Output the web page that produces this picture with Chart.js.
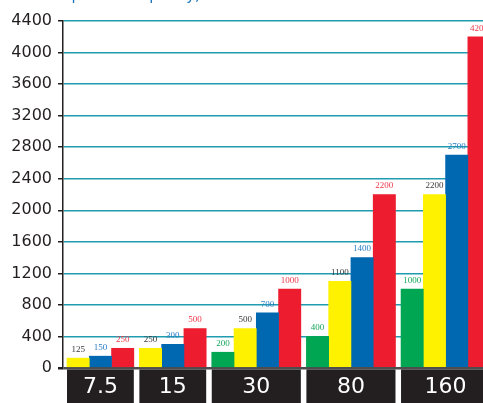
<!DOCTYPE html>
<html>
<head>
<meta charset="utf-8">
<script src="https://cdn.jsdelivr.net/npm/chart.js@4.4.1/dist/chart.umd.min.js"></script>
<style>
  html, body { margin: 0; padding: 0; background: #ffffff; }
</style>
</head>
<body>
<canvas id="chart" width="483" height="403"></canvas>
<script>
// chart values
const categories = ["7.5", "15", "30", "80", "160"];
const greenValues = [null, null, 200, 400, 1000];
const yellowValues = [125, 250, 500, 1100, 2200];
const blueValues = [150, 300, 700, 1400, 2700];
const redValues = [250, 500, 1000, 2200, 4200];
const yTickValues = [0, 400, 800, 1200, 1600, 2000, 2400, 2800, 3200, 3600, 4000, 4400];
const titleText = "Air compressor capacity,";

const series = [
  { values: greenValues, color: "#00a651", labelColor: "#16a85a" },
  { values: yellowValues, color: "#fff200", labelColor: "#3a3a3a" },
  { values: blueValues, color: "#0067b1", labelColor: "#2a7fc4" },
  { values: redValues, color: "#ed1c2e", labelColor: "#ee3a4a" },
];

// each bar gets one slot on a linear x scale; groups only hold the bars they have
const groupGap = 0.25;
const seriesPoints = series.map(() => []);
let slot = 0;
categories.forEach((cat, g) => {
  series.forEach((s, si) => {
    if (s.values[g] === null) return;
    seriesPoints[si].push({ x: slot, y: s.values[g], g: g });
    slot += 1;
  });
  slot += groupGap;
});

const categoryBoxes = {
  id: "categoryBoxes",
  afterDatasetsDraw(chart) {
    const ctx = chart.ctx;
    const area = chart.chartArea;
    const spans = categories.map(() => ({ left: Infinity, right: -Infinity }));
    chart.data.datasets.forEach((ds, di) => {
      chart.getDatasetMeta(di).data.forEach((bar, i) => {
        const g = ds.data[i].g;
        spans[g].left = Math.min(spans[g].left, bar.x - bar.width / 2);
        spans[g].right = Math.max(spans[g].right, bar.x + bar.width / 2);
      });
    });
    ctx.save();
    const top = area.bottom + 1.5;
    spans.forEach((sp, g) => {
      ctx.fillStyle = "#231f20";
      ctx.fillRect(sp.left, top, sp.right - sp.left, chart.height - top);
      ctx.fillStyle = "#ffffff";
      ctx.font = "22px 'DejaVu Sans'";
      ctx.textAlign = "center";
      ctx.textBaseline = "middle";
      ctx.fillText(categories[g], (sp.left + sp.right) / 2, (top + chart.height) / 2 + 1);
    });
    ctx.restore();
  }
};

const barValueLabels = {
  id: "barValueLabels",
  afterDatasetsDraw(chart) {
    const ctx = chart.ctx;
    ctx.save();
    ctx.font = "9px 'Liberation Serif'";
    ctx.textAlign = "center";
    ctx.textBaseline = "bottom";
    chart.data.datasets.forEach((ds, di) => {
      ctx.fillStyle = ds.labelColor;
      chart.getDatasetMeta(di).data.forEach((bar, i) => {
        ctx.fillText(String(ds.data[i].y), bar.x, bar.y - 4);
      });
    });
    ctx.restore();
  }
};

const cutTitle = {
  id: "cutTitle",
  afterDraw(chart) {
    const ctx = chart.ctx;
    ctx.save();
    ctx.font = "15px 'DejaVu Sans'";
    ctx.fillStyle = "#1b75bc";
    ctx.textAlign = "left";
    ctx.textBaseline = "alphabetic";
    ctx.fillText(titleText, 14, 0);
    ctx.restore();
  }
};

new Chart(document.getElementById("chart"), {
  type: "bar",
  data: {
    datasets: series.map((s, si) => ({
      data: seriesPoints[si],
      backgroundColor: s.color,
      labelColor: s.labelColor,
      borderWidth: 0,
      grouped: false,
      categoryPercentage: 1,
      barPercentage: 1,
    })),
  },
  options: {
    responsive: false,
    animation: false,
    layout: { padding: { top: 21, bottom: 35, left: 0, right: 0 } },
    plugins: {
      legend: { display: false },
      tooltip: { enabled: false },
    },
    scales: {
      x: {
        type: "linear",
        display: false,
        offset: false,
        min: -0.68,
        max: 18.18,
        ticks: { stepSize: 1, includeBounds: false },
      },
      y: {
        min: 0,
        max: 4400,
        afterBuildTicks: (scale) => {
          scale.ticks = yTickValues.map((v) => ({ value: v }));
        },
        afterFit: (scale) => {
          scale.width = 63;
        },
        ticks: {
          color: "#231f20",
          padding: 6,
          font: { family: "'DejaVu Sans'", size: 16 },
          callback: (v) => String(v),
        },
        grid: {
          color: (c) => (c.tick && c.tick.value === 0 ? "#4d4d4d" : "#1f9cb0"),
          lineWidth: (c) => (c.tick && c.tick.value === 0 ? 2.5 : 1.5),
          tickLength: 5,
          tickColor: "#231f20",
        },
        border: { color: "#231f20", width: 1.5 },
      },
    },
  },
  plugins: [categoryBoxes, barValueLabels, cutTitle],
});
</script>
</body>
</html>
